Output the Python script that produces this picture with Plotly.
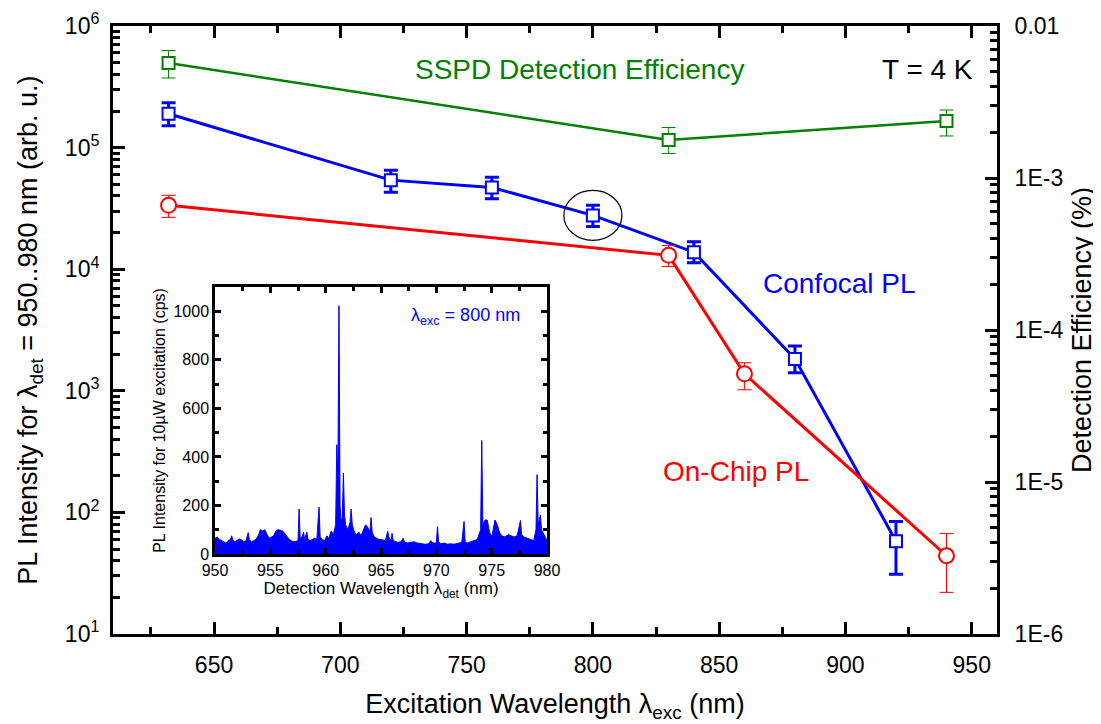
import math
import plotly.graph_objects as go

# confocal PL (blue squares), left axis
confocal_nm = [632, 720, 760, 800, 840, 880, 920]
confocal_pl = [1.9e5, 5.4e4, 4.7e4, 2.77e4, 1.38e4, 1.83e3, 58]
confocal_hi = [2.34e5, 6.5e4, 5.7e4, 3.35e4, 1.68e4, 2.34e3, 84]
confocal_lo = [1.51e5, 4.3e4, 3.8e4, 2.25e4, 1.13e4, 1.41e3, 31]

# on-chip PL (red circles), left axis
onchip_nm = [632, 830, 860, 940]
onchip_pl = [3.35e4, 1.30e4, 1.38e3, 44]
onchip_hi = [4.05e4, 1.57e4, 1.70e3, 67]
onchip_lo = [2.67e4, 1.05e4, 1.02e3, 22]

# SSPD detection efficiency in % (green squares), right axis
sspd_nm = [632, 830, 940]
sspd_eff = [5.7e-3, 1.78e-3, 2.37e-3]
sspd_hi = [6.9e-3, 2.15e-3, 2.8e-3]
sspd_lo = [4.55e-3, 1.45e-3, 1.89e-3]

# inset spectrum, lambda_exc = 800 nm
spec_nm = [950.0, 950.2, 950.4, 950.6, 950.8, 951.0, 951.2, 951.4, 951.5, 951.6,
           951.8, 952.0, 952.2, 952.4, 952.6, 952.8, 953.0, 953.1, 953.3, 953.5,
           953.7, 953.9, 954.1, 954.3, 954.5, 954.7, 954.9, 955.1, 955.3, 955.5,
           955.7, 955.9, 956.1, 956.3, 956.5, 956.7, 956.9, 957.1, 957.3, 957.5,
           957.6, 957.7, 957.9, 958.0, 958.1, 958.3, 958.4, 958.6, 958.8, 959.0,
           959.2, 959.4, 959.5, 959.7, 959.9, 960.1, 960.3, 960.5, 960.7, 960.9,
           961.0, 961.1, 961.2, 961.3, 961.4, 961.5, 961.6, 961.7, 961.8, 962.0,
           962.2, 962.3, 962.4, 962.6, 962.8, 963.0, 963.2, 963.4, 963.6, 963.8,
           964.0, 964.1, 964.2, 964.4, 964.6, 964.8, 965.0, 965.2, 965.4, 965.6,
           965.7, 965.9, 966.0, 966.1, 966.3, 966.5, 966.8, 967.0, 967.1, 967.4,
           967.7, 968.0, 968.3, 968.6, 969.0, 969.3, 969.5, 969.7, 970.0, 970.1,
           970.2, 970.4, 970.7, 971.0, 971.3, 971.6, 972.0, 972.3, 972.5, 972.6,
           972.8, 973.1, 973.4, 973.7, 974.0, 974.1, 974.2, 974.4, 974.6, 974.8,
           975.0, 975.2, 975.3, 975.5, 975.7, 975.9, 976.2, 976.5, 976.8, 977.0,
           977.3, 977.6, 977.7, 977.9, 978.2, 978.5, 978.8, 979.0, 979.1, 979.2,
           979.4, 979.5, 979.7, 979.9, 980.0]
spec_cps = [65, 70, 60, 55, 50, 45, 55, 60, 75, 60,
            50, 55, 62, 58, 50, 55, 88, 60, 50, 55,
            60, 75, 100, 95, 100, 80, 65, 70, 75, 95,
            100, 98, 95, 85, 70, 60, 55, 50, 52, 55,
            185, 60, 75, 90, 60, 90, 60, 55, 60, 65,
            60, 193, 70, 60, 55, 75, 65, 95, 80, 120,
            450, 300, 1023, 200, 130, 150, 334, 160, 120, 100,
            130, 185, 120, 90, 80, 90, 75, 100, 120, 110,
            90, 150, 90, 70, 65, 60, 60, 58, 55, 94,
            70, 55, 85, 55, 50, 48, 50, 65, 50, 45,
            48, 50, 45, 42, 40, 42, 55, 45, 45, 113,
            50, 42, 45, 40, 42, 40, 45, 48, 134, 50,
            45, 50, 55, 60, 100, 468, 120, 140, 140, 90,
            70, 130, 140, 120, 90, 75, 70, 80, 75, 70,
            75, 138, 80, 70, 65, 60, 55, 100, 327, 120,
            160, 100, 80, 60, 55]

BLUE = "#0000FF"
RED = "#FF0000"
GREEN = "#008000"
FONT = "Arial, Liberation Sans, sans-serif"


def err(hi, lo, val):
    return [h - v for h, v in zip(hi, val)], [v - l for l, v in zip(lo, val)]


fig = go.Figure()

up, dn = err(confocal_hi, confocal_lo, confocal_pl)
fig.add_trace(go.Scatter(
    x=confocal_nm, y=confocal_pl, mode="lines+markers", name="Confocal PL",
    line=dict(color=BLUE, width=3),
    marker=dict(symbol="square", size=12, color="white", line=dict(color=BLUE, width=2)),
    error_y=dict(type="data", array=up, arrayminus=dn, color=BLUE, thickness=3, width=7)))

up, dn = err(onchip_hi, onchip_lo, onchip_pl)
fig.add_trace(go.Scatter(
    x=onchip_nm, y=onchip_pl, mode="lines+markers", name="On-Chip PL",
    line=dict(color=RED, width=3),
    marker=dict(symbol="circle", size=15, color="white", line=dict(color=RED, width=2)),
    error_y=dict(type="data", array=up, arrayminus=dn, color=RED, thickness=1, width=7)))

up, dn = err(sspd_hi, sspd_lo, sspd_eff)
fig.add_trace(go.Scatter(
    x=sspd_nm, y=sspd_eff, mode="lines+markers", name="SSPD", yaxis="y2",
    line=dict(color=GREEN, width=2.5),
    marker=dict(symbol="square", size=12, color="white", line=dict(color=GREEN, width=2)),
    error_y=dict(type="data", array=up, arrayminus=dn, color=GREEN, thickness=1, width=7)))

fig.add_trace(go.Scatter(
    x=spec_nm, y=spec_cps, mode="lines", xaxis="x3", yaxis="y3",
    line=dict(color=BLUE, width=1), fill="tozeroy", fillcolor=BLUE))

left_minor = [m * 10 ** e for e in range(1, 6) for m in range(2, 10)]
right_minor = [m * 10.0 ** e for e in range(-6, -2) for m in range(2, 10)]

axis_common = dict(showline=True, linecolor="black", ticks="inside", tickcolor="black",
                   showgrid=False, zeroline=False, automargin=False,
                   ticklabeloverflow="allow", tickfont=dict(size=23, color="black"))
inset_common = dict(showline=True, linecolor="black", linewidth=2.5, mirror="ticks",
                    ticks="inside", ticklen=6, tickwidth=2.5, tickcolor="black",
                    showgrid=False, zeroline=False, automargin=False,
                    tickfont=dict(size=16, color="black"))

# page body adds an 8 px offset, so the figure is a bit smaller than the window
fig.update_layout(
    width=1093, height=716,
    margin=dict(l=105, r=104, t=18, b=90),
    paper_bgcolor="white", plot_bgcolor="white",
    showlegend=False,
    font=dict(family=FONT, color="black"),
    xaxis=dict(**axis_common, domain=[0, 1], anchor="y", range=[610, 960],
               linewidth=3, ticklen=12, tickwidth=3, mirror="ticks",
               tickvals=[650, 700, 750, 800, 850, 900, 950], ticklabelstandoff=8,
               minor=dict(ticks="inside", ticklen=7, tickwidth=3, dtick=25, tickcolor="black"),
               title=dict(text="Excitation Wavelength λ<sub>exc</sub> (nm)",
                          font=dict(size=27), standoff=18)),
    yaxis=dict(**axis_common, type="log", range=[0.99999, 6.00001], anchor="x",
               linewidth=3, ticklen=12, tickwidth=3, ticklabelstandoff=6,
               tickvals=[1e1, 1e2, 1e3, 1e4, 1e5, 1e6],
               ticktext=["10<sup>1</sup>", "10<sup>2</sup>", "10<sup>3</sup>",
                         "10<sup>4</sup>", "10<sup>5</sup>", "10<sup>6</sup>"],
               minor=dict(ticks="inside", ticklen=7, tickwidth=3, tickvals=left_minor,
                          tickcolor="black"),
               title=dict(text="PL Intensity for λ<sub>det</sub> = 950..980 nm (arb. u.)",
                          font=dict(size=27), standoff=20)),
    yaxis2=dict(**axis_common, type="log", range=[-6.00001, -1.99999], overlaying="y",
                side="right", anchor="x", linewidth=3, ticklen=12, tickwidth=3,
                ticklabelstandoff=10,
                tickvals=[1e-6, 1e-5, 1e-4, 1e-3, 1e-2],
                ticktext=["1E-6", "1E-5", "1E-4", "1E-3", "0.01"],
                minor=dict(ticks="inside", ticklen=7, tickwidth=3, tickvals=right_minor,
                           tickcolor="black"),
                title=dict(text="Detection Efficiency (%)", font=dict(size=27), standoff=10)),
    xaxis3=dict(**inset_common, domain=[0.1154, 0.491], anchor="y3",
                range=[950, 980], dtick=5,
                minor=dict(ticks="inside", ticklen=4, tickwidth=2.5, dtick=2.5, tickcolor="black"),
                title=dict(text="Detection Wavelength λ<sub>det</sub> (nm)",
                           font=dict(size=17), standoff=4)),
    yaxis3=dict(**inset_common, domain=[0.1316, 0.5707], anchor="x3",
                range=[0, 1100], tickvals=[0, 200, 400, 600, 800, 1000],
                minor=dict(ticks="inside", ticklen=4, tickwidth=2.5, dtick=100, tickcolor="black"),
                title=dict(text="PL Intensity for 10µW excitation (cps)",
                           font=dict(size=16), standoff=4)),
)

fig.add_annotation(text="SSPD Detection Efficiency", xref="paper", yref="paper",
                   x=0.528, y=0.929, xanchor="center", yanchor="middle", showarrow=False,
                   font=dict(size=28, color=GREEN))
fig.add_annotation(text="T = 4 K", xref="paper", yref="paper", x=0.975, y=0.929,
                   xanchor="right", yanchor="middle", showarrow=False,
                   font=dict(size=28, color="black"))
fig.add_annotation(text="Confocal PL", xref="paper", yref="paper", x=0.822, y=0.577,
                   xanchor="center", yanchor="middle", showarrow=False,
                   font=dict(size=28, color=BLUE))
fig.add_annotation(text="On-Chip PL", xref="paper", yref="paper", x=0.705, y=0.268,
                   xanchor="center", yanchor="middle", showarrow=False,
                   font=dict(size=28, color=RED))
fig.add_annotation(text="λ<sub>exc</sub> = 800 nm", xref="x3 domain", yref="y3 domain",
                   x=0.753, y=0.89, xanchor="center", yanchor="middle", showarrow=False,
                   font=dict(size=18, color=BLUE))

# ellipse highlighting the 800 nm point (vertical position as fraction of the log axis)
i800 = confocal_nm.index(800)
c_frac = (math.log10(confocal_pl[i800]) - 1) / 5
fig.add_shape(type="circle", xref="x", yref="y domain",
              x0=800 - 11.5, x1=800 + 11.5, y0=c_frac - 0.041, y1=c_frac + 0.041,
              line=dict(color="black", width=1.2))

fig.write_html("out.html")
